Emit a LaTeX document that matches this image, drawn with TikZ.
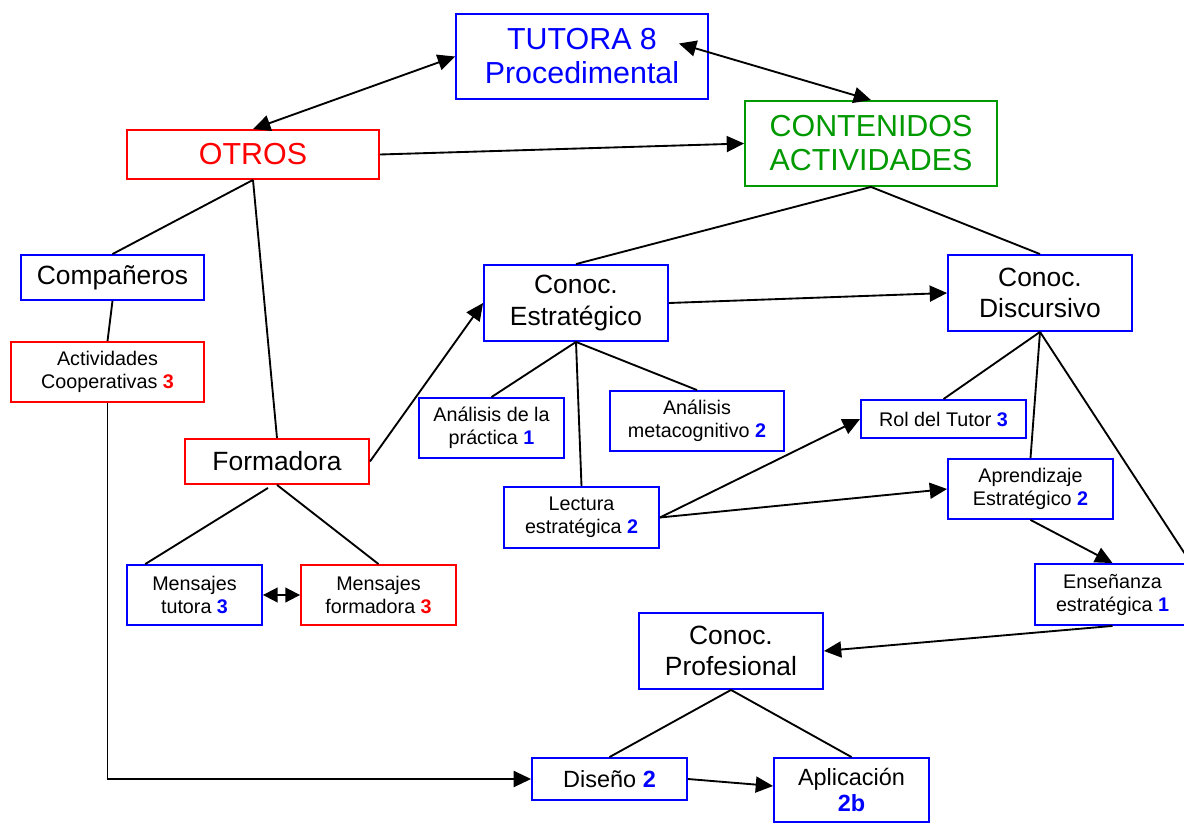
\documentclass[tikz,border=0pt]{standalone}
\usepackage{fontspec}
\setmainfont{Liberation Sans}
\usetikzlibrary{arrows.meta,calc}
\definecolor{cgreen}{RGB}{0,153,0}
\newcommand\numb[1]{\textbf{\textcolor{blue}{#1}}}
\newcommand\numr[1]{\textbf{\textcolor{red}{#1}}}
\begin{document}
\begin{tikzpicture}[x=0.75pt,y=-0.75pt,
  box/.style={draw, line width=1.4pt, inner sep=0pt, align=center},
  bbox/.style={box, draw=blue},
  rbox/.style={box, draw=red},
  gbox/.style={box, draw=cgreen},
  sz/.style 2 args={minimum width=#1*0.75pt, minimum height=#2*0.75pt},
  big/.style={font=\fontsize{22.8}{25.5}\selectfont},
  mid/.style={font=\fontsize{19.8}{23.3}\selectfont},
  sml/.style={font=\fontsize{14.8}{17.3}\selectfont},
  dsg/.style={font=\fontsize{17.6}{19.5}\selectfont},
  link/.style={line width=1.4pt},
  arr/.style={link, -{Triangle[length=13pt,width=12pt]}},
  darr/.style={link, {Triangle[length=13pt,width=12pt]}-{Triangle[length=13pt,width=12pt]}},
  sdarr/.style={link, {Triangle[length=11pt,width=11pt]}-{Triangle[length=11pt,width=11pt]}},
]
\clip (0,0) rectangle (1184,823);
\fill[white] (0,0) rectangle (1184,823);

% top level
\node[bbox, sz={252}{85}, big, text=blue] (tutora) at (582,56.5) {TUTORA 8\\Procedimental};
\node[gbox, sz={252}{85}, big, text=cgreen] (cont) at (871,143.5) {CONTENIDOS\\ACTIVIDADES};
\node[rbox, sz={252}{49}, big, text=red] (otros) at (253,154.5) {OTROS};

% left branch
\node[bbox, sz={183}{45}, mid] (comp) at (112.5,277.5) {Compañeros};
\node[rbox, sz={193}{60}, sml] (activ) at (107.5,372) {Actividades\\Cooperativas \numr{3}};
\node[rbox, sz={184}{45}, mid] (form) at (277,461.5) {Formadora};
\node[bbox, sz={135}{60}, sml] (mtut) at (194.5,595) {Mensajes\\tutora \numb{3}};
\node[rbox, sz={155}{60}, sml] (mform) at (378.5,595) {Mensajes\\formadora \numr{3}};

% strategic knowledge
\node[bbox, sz={184}{76}, mid] (cest) at (576,303) {Conoc.\\Estratégico};
\node[bbox, sz={145}{60}, sml] (apra) at (491.5,428) {Análisis de la\\práctica \numb{1}};
\node[bbox, sz={174}{60}, sml] (amet) at (697,421) {Análisis\\metacognitivo \numb{2}};
\node[bbox, sz={155}{61}, sml] (lect) at (581.5,517.5) {Lectura\\estratégica \numb{2}};

% discursive knowledge
\node[bbox, sz={184}{76}, mid] (cdis) at (1040,293) {Conoc.\\Discursivo};
\node[bbox, sz={165}{38}, sml] (rol) at (943.5,419) {Rol del Tutor \numb{3}};
\node[bbox, sz={165}{60}, sml] (apre) at (1030.5,489) {Aprendizaje\\Estratégico \numb{2}};
\node[bbox, sz={155}{61}, sml] (ens) at (1112.5,594.5) {Enseñanza\\estratégica \numb{1}};

% professional knowledge
\node[bbox, sz={184}{76}, mid] (prof) at (731,651) {Conoc.\\Profesional};
\node[bbox, sz={155}{42}, dsg] (dis) at (609.5,779) {Diseño \numb{2}};
\node[bbox, sz={155}{64}, dsg] (apl) at (851.5,790) {Aplicación\\\numb{2b}};

% connectors
\draw[darr] (otros.north) -- (tutora.west);
\draw[darr] ([shift={(-30,-13)}]tutora.east) -- (cont.north);
\draw[arr] (otros.east) -- (cont.west);
\draw[link] (cont.south) -- (cest.north);
\draw[link] (cont.south) -- (cdis.north);

\draw[link] (otros.south) -- (comp.north);
\draw[link] (otros.south) -- (form.north);
\draw[link] (comp.south) -- (activ.north);
\draw[arr] (activ.south) |- (dis.west);
\draw[arr] (form.east) -- (cest.west);
\draw[link] ([shift={(-9,3)}]form.south) -- ($(mtut.north west)!0.14!(mtut.north east)$);
\draw[link] (form.south) -- (mform.north);
\draw[sdarr] (mtut.east) -- (mform.west);

\draw[link] (cest.south) -- (apra.north);
\draw[link] (cest.south) -- (lect.north);
\draw[link] (cest.south) -- (amet.north);
\draw[arr] (cest.east) -- (cdis.west);
\draw[arr] (lect.east) -- (rol.west);
\draw[arr] (lect.east) -- (apre.west);

\draw[link] (cdis.south) -- (rol.north);
\draw[link] (cdis.south) -- (apre.north);
\draw[link] (cdis.south) -- (ens.north east);
\draw[arr] (apre.south) -- (ens.north);
\draw[arr] (ens.south) -- (prof.east);

\draw[link] (prof.south) -- (dis.north);
\draw[link] (prof.south) -- (apl.north);
\draw[arr] (dis.east) -- ([yshift=3]apl.west);
\end{tikzpicture}
\end{document}
